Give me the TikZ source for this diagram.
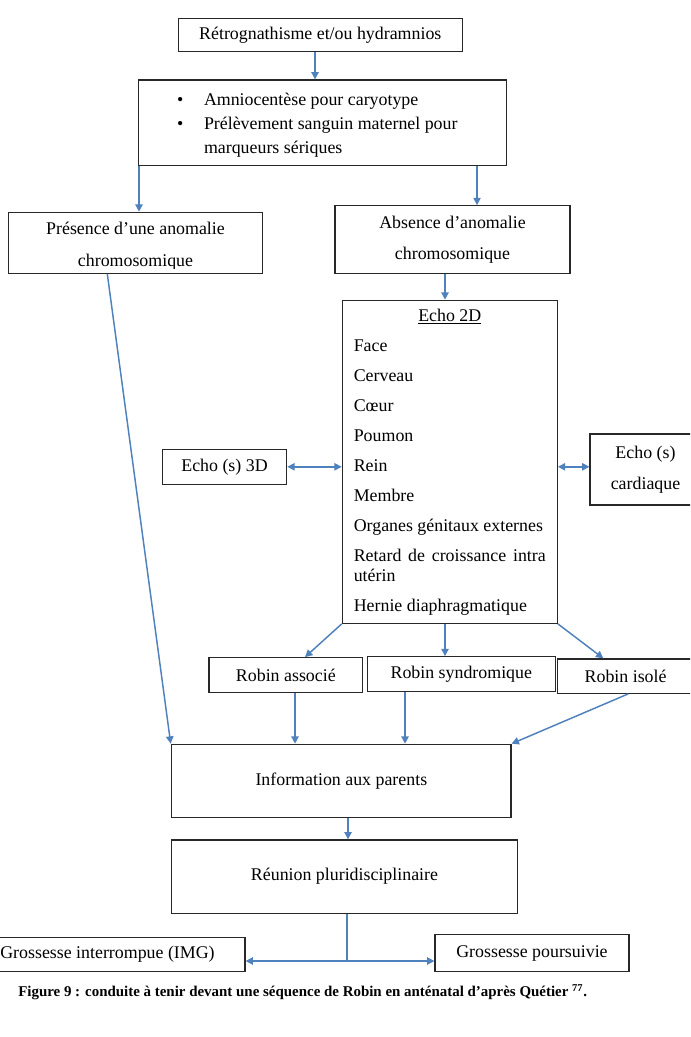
\documentclass[tikz,border=0pt]{standalone}
\usepackage{fontspec}
\setmainfont{Liberation Serif}
\usetikzlibrary{arrows.meta}
\definecolor{linkblue}{RGB}{79,129,189}
\definecolor{framegray}{RGB}{40,40,40}
\newcommand{\bul}{\makebox[20.25pt][l]{•}}

\begin{document}
\begin{tikzpicture}[x=0.75pt,y=-0.75pt,
  font=\fontsize{13.4}{23.5}\selectfont,
  bx/.style 2 args={draw=framegray, line width=0.9pt, minimum width=#1*0.75pt,
                    minimum height=#2*0.75pt, inner sep=0pt, align=center},
  link/.style={draw=linkblue, line width=1.1pt},
  arr/.style={link, -{Triangle[length=5.5pt,width=5.5pt]}},
  darr/.style={link, {Triangle[length=5.5pt,width=5.5pt]}-{Triangle[length=5.5pt,width=5.5pt]}},
]
\fill[white] (0,0) rectangle (690,1037);
\useasboundingbox (0,0) rectangle (690,1037);
\clip (0,0) rectangle (690,1037);

% --- boxes ---
\node[bx={284}{33.4}] (top) at (320.3,35) {Rétrognathisme et/ou hydramnios};
\node[bx={368.4}{85.7}, text width=218.25pt, align=flush left,
      font=\fontsize{13.4}{18}\selectfont] (amnio) at (322.5,122.85)
  {\mbox{\rule{0pt}{12.6pt}\bul Amniocentèse pour caryotype}\\
   \mbox{\bul Prélèvement sanguin maternel pour}\\
   \mbox{\hspace*{20.25pt}marqueurs sériques}};

\node[bx={254.4}{61}] (pres) at (135.5,242.8) {};
\begin{scope}
  \clip (8.3,212.3) rectangle (262.7,268.6);
  \node[align=center, inner sep=0pt, font=\fontsize{13.4}{24.3}\selectfont]
    (prestxt) at (135.5,246.3) {Présence d’une anomalie\\chromosomique};
\end{scope}

\node[bx={235}{67.6}, font=\fontsize{13.4}{23.25}\selectfont] (abs) at (452.5,239.5)
  {Absence d’anomalie\\chromosomique};

\node[bx={215}{323}, text width=144pt, align=flush left,
      font=\fontsize{13.4}{15}\selectfont] (echo) at (449.8,461.8)
  {\makebox[144pt]{\underline{Echo 2D}}\\[7.5pt]
   \mbox{Face}\\[7.5pt]
   \mbox{Cerveau}\\[7.5pt]
   \mbox{Cœur}\\[7.5pt]
   \mbox{Poumon}\\[7.5pt]
   \mbox{Rein}\\[7.5pt]
   \mbox{Membre}\\[7.5pt]
   \mbox{Organes génitaux externes}\\[7.5pt]
   \makebox[144pt][s]{Retard de croissance intra}\\
   \mbox{utérin}\\[7.5pt]
   \mbox{Hernie diaphragmatique}};

\node[bx={124.4}{35}] (e3d) at (224.5,466.8) {Echo (s) 3D};
\node[bx={111}{71}, font=\fontsize{13.4}{23.7}\selectfont] (card) at (645.5,469.5)
  {Echo (s)\\cardiaque};

\node[bx={153.7}{35}] (ras) at (285.85,675.2) {Robin associé};
\node[bx={188}{34.8}] (rsy) at (461.3,674.1) {Robin syndromique};
\node[bx={136.7}{34.3}] (ris) at (625.6,676.1) {Robin isolé};

\node[bx={339.3}{73}] (info) at (341.35,780.8) {\raisebox{-2pt}{Information aux parents}};
\node[bx={345.6}{73.3}] (reun) at (344.5,876.6) {Réunion pluridisciplinaire};

\node[bx={275}{34.4}] (gi) at (107.5,954.5) {Grossesse interrompue (IMG)};
\node[bx={194}{37}] (gp) at (532,953.2) {Grossesse poursuivie};

\node[anchor=base west, inner sep=0pt, font=\bfseries\fontsize{11.2}{13}\selectfont]
  (cap) at (18,996.7)
  {Figure 9 : conduite à tenir devant une séquence de Robin en anténatal d’après Quétier \textsuperscript{77}.};

% --- connectors ---
\draw[arr] (315,0 |- top.south) -- (315,0 |- amnio.north);
\draw[arr] (139,0 |- amnio.south) -- (139,0 |- pres.north);
\draw[arr] (477,0 |- amnio.south) -- (477,0 |- abs.north);
\draw[arr] (445,0 |- abs.south) -- (445,0 |- echo.north);
\draw[arr] (107.3,0 |- pres.south) -- (170.7,0 |- info.north);
\draw[darr] (e3d.east) -- (e3d.east -| echo.west);
\draw[darr] (echo.east |- e3d.east) -- (card.west |- e3d.east);
\draw[arr] (echo.south west) -- (305,0 |- ras.north);
\draw[arr] (445,0 |- echo.south) -- (445,0 |- rsy.north);
\draw[arr] (echo.south east) -- (603.3,0 |- ris.north);
\draw[arr] (295,0 |- ras.south) -- (295,0 |- info.north);
\draw[arr] (405,0 |- rsy.south) -- (405,0 |- info.north);
\draw[arr] (628.3,0 |- ris.south) -- (info.north east);
\draw[arr] (348,0 |- info.south) -- (348,0 |- reun.north);
\coordinate (split) at (347,961);
\draw[link] (347,0 |- reun.south) -- (split);
\draw[arr] (split) -- (split -| gi.east);
\draw[arr] (split) -- (split -| gp.west);
\end{tikzpicture}
\end{document}
